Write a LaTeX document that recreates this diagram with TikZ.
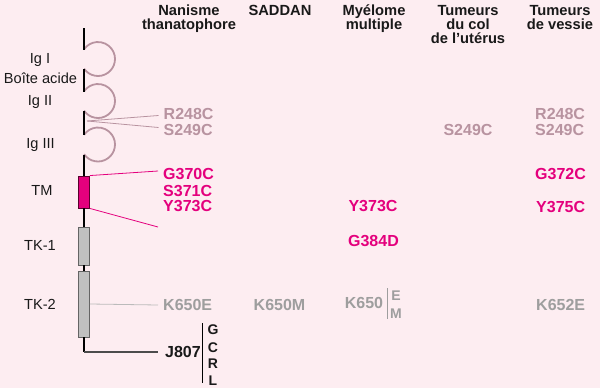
\documentclass[tikz,border=0pt]{standalone}
\usepackage{fontspec}
\setmainfont{Liberation Sans}
\definecolor{bg}{RGB}{253,237,241}
\definecolor{mauve}{RGB}{184,147,160}
\definecolor{mag}{RGB}{228,0,125}
\definecolor{gtxt}{RGB}{158,158,158}
\definecolor{ink}{RGB}{25,25,25}
\definecolor{boxgray}{RGB}{192,192,192}
\definecolor{boxedge}{RGB}{100,100,100}
\definecolor{tmedge}{RGB}{90,0,45}
\begin{document}
\begin{tikzpicture}[x=1pt,y=-1pt,
  lbl/.style={font=\fontsize{14.6}{17}\selectfont, text=ink, anchor=base, inner sep=0},
  hdr/.style={font=\bfseries\fontsize{14.7}{17}\selectfont, text=ink, anchor=base, inner sep=0},
  mut/.style={font=\bfseries\fontsize{16}{18}\selectfont, inner sep=0},
  mmauve/.style={mut, text=mauve},
  mmag/.style={mut, text=mag},
  mgray/.style={mut, text=gtxt},
  mink/.style={mut, text=ink},
  small/.style={font=\bfseries\fontsize{14}{16}\selectfont, inner sep=0},
  spine/.style={draw=black, line width=2pt},
  igloop/.style={draw=mauve, line width=1.8pt},
  tmbox/.style={draw=tmedge, fill=mag, line width=0.9pt, minimum width=11pt, minimum height=32pt, inner sep=0},
  tkbox/.style={draw=boxedge, fill=boxgray, line width=0.9pt, minimum width=11pt, inner sep=0},
  mline/.style={draw=mauve, line width=0.8pt},
  tline/.style={draw=mag, line width=0.8pt},
  kline/.style={draw=gtxt!70, line width=0.8pt},
  jline/.style={draw=black!70, line width=1.4pt}
]
\fill[bg] (0,0) rectangle (600,388);
\useasboundingbox (0,0) rectangle (600,388);

% headers
\node[hdr] (h1a) at (189,15.5) {Nanisme};
\node[hdr] (h1b) at (189,29.5) {thanatophore};
\node[hdr] (h2a) at (280,15.5) {SADDAN};
\node[hdr] (h3a) at (374,15.5) {Myélome};
\node[hdr] (h3b) at (374,29.5) {multiple};
\node[hdr] (h4a) at (468,15.5) {Tumeurs};
\node[hdr] (h4b) at (468,29.5) {du col};
\node[hdr] (h4c) at (468,43.5) {de l’utérus};
\node[hdr] (h5a) at (560,15.5) {Tumeurs};
\node[hdr] (h5b) at (560,29.5) {de vessie};

% left labels
\node[lbl] (igI) at (40,63.2) {Ig I};
\node[lbl] (boite) at (40.5,83.5) {Boîte acide};
\node[lbl] (igII) at (40,105) {Ig II};
\node[lbl] (igIII) at (40.5,148) {Ig III};
\node[lbl] (tmlbl) at (42,195) {TM};
\node[lbl] (tk1lbl) at (40,250) {TK-1};
\node[lbl] (tk2lbl) at (40,309) {TK-2};

% Ig loops
\draw[igloop] (98,59) ++(145:17) arc[start angle=145, end angle=-145, radius=17];
\draw[igloop] (98,101) ++(145:17) arc[start angle=145, end angle=-145, radius=17];
\draw[igloop] (98,144.5) ++(145:17) arc[start angle=145, end angle=-145, radius=17];

% domains
\node[tmbox] (tm) at (84,192) {};
\node[tkbox, minimum height=38pt] (tk1) at (84,246) {};
\node[tkbox, minimum height=66pt] (tk2) at (84,304) {};

% spine
\draw[spine] (84,28) -- (84,49.5);
\draw[spine] (84,68.5) -- (84,91.5);
\draw[spine] (84,110.5) -- (84,135);
\draw[spine] (84,154.5) -- (tm.north);
\draw[spine] (tm.south) -- (tk1.north);
\draw[spine] (tk1.south) -- (tk2.north);
\coordinate (corner) at (84,352);
\draw[spine] (tk2.south) -- (corner);

% column 1 mutations
\node[mmauve, anchor=west] (r248a) at (163.5,114) {R248C};
\node[mmauve, anchor=west] (s249a) at (163.5,129.5) {S249C};
\node[mmag, anchor=west] (g370) at (163,174.5) {G370C};
\node[mmag, anchor=west] (s371) at (163,191) {S371C};
\node[mmag, anchor=west] (y373a) at (163,206.5) {Y373C};
\node[mgray, anchor=west] (k650e) at (163,305) {K650E};
\node[mink, anchor=west] (j807) at (165,352) {J807};

% connectors
\coordinate (igjoin) at (87,121);
\draw[mline] (igjoin) -- ([shift={(-5,1.5)}]r248a.west);
\draw[mline] (igjoin) -- ([shift={(-5,-2)}]s249a.west);
\draw[tline] (tm.north east) -- ([shift={(-5,-3.5)}]g370.west);
\coordinate (tmend) at (158,227);
\draw[tline] (tm.south east) -- (tmend);
\draw[kline] (tk2.east) -- ([xshift=-5]k650e.west);
\draw[jline] (corner) -- ([xshift=-7]j807.west);

% GCRL
\draw[black, line width=0.9pt] (202,323) -- (202,383);
\node[small, text=ink] (lg) at (213,329.5) {G};
\node[small, text=ink] (lc) at (213,347.5) {C};
\node[small, text=ink] (lr) at (213,364) {R};
\node[small, text=ink] (ll) at (213,380.5) {L};

% SADDAN
\node[mgray] (k650m) at (279.5,305) {K650M};

% Myelome
\node[mmag] (y373b) at (373,206.5) {Y373C};
\node[mmag] (g384) at (373.5,241) {G384D};
\node[mgray] (k650) at (364,303) {K650};
\draw[draw=gtxt, line width=0.9pt] (387,288) -- (387,319);
\node[small, text=gtxt] (ke) at (396,296) {E};
\node[small, text=gtxt] (km) at (396,313.5) {M};

% col uterus
\node[mmauve] (s249b) at (468,130) {S249C};

% vessie
\node[mmauve, anchor=west] (r248c) at (535,114) {R248C};
\node[mmauve, anchor=west] (s249c) at (535,129.5) {S249C};
\node[mmag, anchor=west] (g372) at (535,174) {G372C};
\node[mmag, anchor=west] (y375) at (536,207) {Y375C};
\node[mgray, anchor=west] (k652) at (536,304.5) {K652E};
\end{tikzpicture}
\end{document}
